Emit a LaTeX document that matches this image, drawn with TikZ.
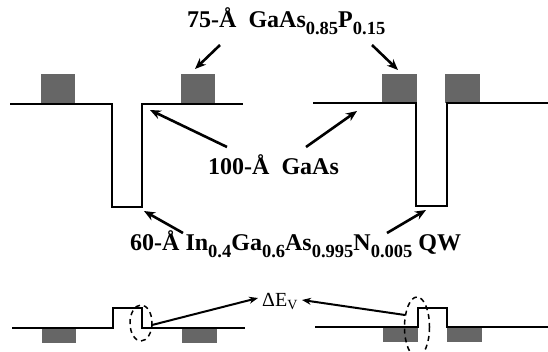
\documentclass[tikz,border=0pt]{standalone}
\usepackage{fontspec}
\setmainfont{Liberation Serif}
\usetikzlibrary{arrows.meta}
\newcommand{\sbx}[1]{\raisebox{-0.28em}{\fontsize{18.5}{18.5}\selectfont #1}}
\tikzset{
  band/.style={line width=1.5pt, line join=miter},
  barrier/.style={fill=black!60},
  lbl/.style={font=\fontsize{24}{28}\selectfont\bfseries, inner sep=0pt},
  ptr/.style={line width=2.6pt, -{Stealth[length=11pt,width=9pt]}},
  ring/.style={dashed, line width=1.5pt, dash pattern=on 5pt off 4pt},
}
\begin{document}
\begin{tikzpicture}[x=1pt,y=-1pt]
\useasboundingbox (0,0) rectangle (548,352);
\fill[white] (0,0) rectangle (548,352);
% barriers
\fill[barrier] (41,74) rectangle (75,104);
\fill[barrier] (181,74) rectangle (215,104);
\fill[barrier] (382,74) rectangle (417,103);
\fill[barrier] (445,74) rectangle (480,103);
\fill[barrier] (42,328) rectangle (76,343);
\fill[barrier] (182,328) rectangle (217,343);
\fill[barrier] (383,327) rectangle (418,342);
\fill[barrier] (447,327) rectangle (482,342);
% band edges
\draw[band] (10,104) -- (112,104) -- (112,207) -- (142,207) -- (142,104) -- (243,104);
\draw[band] (313,103) -- (416,103) -- (416,206) -- (447,206) -- (447,103) -- (548,103);
\draw[band] (12,328) -- (113,328) -- (113,308) -- (142,308) -- (142,328) -- (245,328);
\draw[band] (315,327) -- (418,327) -- (418,308) -- (447,308) -- (447,327) -- (548,327);
% dashed rings
\draw[ring] (141,323) ellipse [x radius=11, y radius=18];
\draw[ring] (417,327) ellipse [x radius=12.5, y radius=30];
% labels
\node[lbl, anchor=base west] (title) at (187,28) {75-Å\ \ GaAs\sbx{0.85}P\sbx{0.15}};
\node[lbl, anchor=base west] (gaas) at (208,175) {100-Å\ \ GaAs};
\node[lbl, anchor=base west] (qw) at (130,251) {60-Å In\sbx{0.4}Ga\sbx{0.6}As\sbx{0.995}N\sbx{0.005} QW};
\node[font=\fontsize{20}{24}\selectfont, inner sep=0pt, anchor=base west] (dev) at (262,306) {ΔE\textsubscript{V}};
% arrow ends
\coordinate (t1s) at (220,45); \coordinate (t1e) at (195,69);
\coordinate (t2s) at (372,45); \coordinate (t2e) at (398,70);
\coordinate (g1s) at (227,147); \coordinate (g1e) at (150,110);
\coordinate (g2s) at (306,147); \coordinate (g2e) at (357,111);
\coordinate (q1s) at (183,233); \coordinate (q1e) at (144,211);
\coordinate (q2s) at (387,233); \coordinate (q2e) at (426,210);
\coordinate (d1s) at (152,325); \coordinate (d1e) at (258,298);
\coordinate (d2s) at (405,315); \coordinate (d2e) at (302,300);
\draw[ptr] (t1s) -- (t1e);
\draw[ptr] (t2s) -- (t2e);
\draw[ptr] (g1s) -- (g1e);
\draw[ptr] (g2s) -- (g2e);
\draw[ptr] (q1s) -- (q1e);
\draw[ptr] (q2s) -- (q2e);
\draw[line width=2pt, -{Stealth[length=9pt,width=7pt]}] (d1s) -- (d1e);
\draw[line width=2pt, -{Stealth[length=9pt,width=7pt]}] (d2s) -- (d2e);
\end{tikzpicture}
\end{document}
